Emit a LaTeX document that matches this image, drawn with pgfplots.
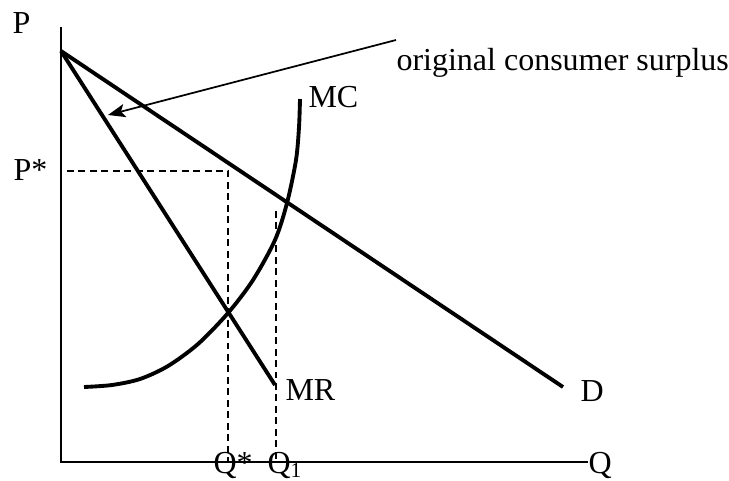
\documentclass[border=0pt]{standalone}
\usepackage{fontspec}
\setmainfont{Liberation Serif}
\usepackage{pgfplots}
\pgfplotsset{compat=1.18}
\usetikzlibrary{arrows.meta}
\begin{document}
\fontsize{12}{14}\selectfont
\begin{tikzpicture}
\begin{axis}[
  x=0.375pt, y=0.375pt,
  xmin=0, xmax=729, ymin=0, ymax=480,
  y dir=reverse,
  hide axis, clip=false,
  every axis plot/.append style={black},
]
\coordinate (BL) at (axis cs:0,480);
\coordinate (TR) at (axis cs:729,0);
% axes
\addplot[line width=0.85pt] coordinates {(61,27) (61,462) (588,462)};
% demand
\addplot[line width=1.45pt] coordinates {(61,51) (563,387)};
% marginal revenue
\addplot[line width=1.45pt] coordinates {(61,51) (275,385)};
% marginal cost
\addplot[line width=1.45pt, smooth, tension=0.5] coordinates {
 (84,387) (112,385) (140,379) (168,366) (198,344) (228,313) (253,280) (275,240) (287,203) (296,160) (299,127) (300,99)};
% dashed guides
\addplot[line width=0.75pt, dash pattern=on 2.6pt off 1.7pt] coordinates {(67,171) (228,171) (228,462)};
\addplot[line width=0.75pt, dash pattern=on 2.6pt off 1.7pt] coordinates {(276,211) (276,462)};
% arrow
\addplot[line width=0.65pt, -{Stealth[length=6.5pt,width=5pt,inset=1.5pt]}] coordinates {(396,40) (108,115)};
% labels
\node[anchor=base west, inner sep=0pt] at (axis cs:12,33) {P};
\node[anchor=base west, inner sep=0pt] at (axis cs:13,180) {P*};
\node[anchor=base west, inner sep=0pt] at (axis cs:308,107) {MC};
\node[anchor=base west, inner sep=0pt] at (axis cs:285,400) {MR};
\node[anchor=base west, inner sep=0pt] at (axis cs:580,401) {D};
\node[anchor=base west, inner sep=0pt] at (axis cs:213,473) {Q*};
\node[anchor=base west, inner sep=0pt] at (axis cs:267,473) {Q\textsubscript{1}};
\node[anchor=base west, inner sep=0pt] at (axis cs:588,473) {Q};
\node[anchor=base west, inner sep=0pt] at (axis cs:396,70) {original consumer surplus};
\end{axis}
\pgfresetboundingbox
\path (BL) rectangle (TR);
\end{tikzpicture}
\end{document}
